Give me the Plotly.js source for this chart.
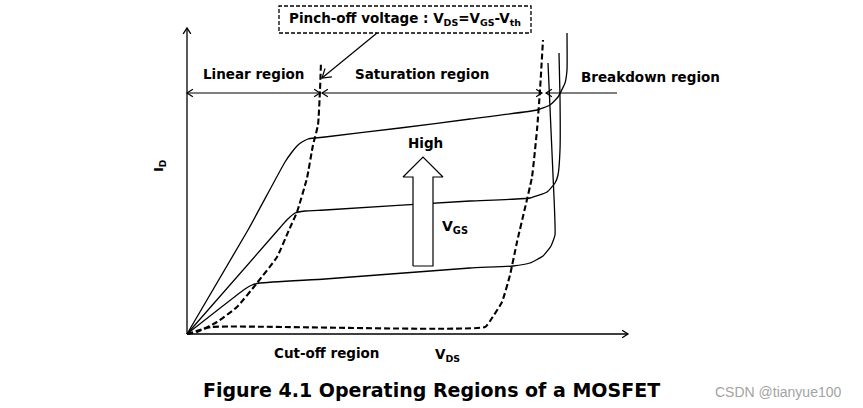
<!DOCTYPE html>
<html>
<head>
<meta charset="utf-8">
<script src="https://cdn.plot.ly/plotly-3.0.1.min.js"></script>
<style>html,body{margin:0;padding:0;background:#fff;}#chart{width:863px;height:408px;}</style>
</head>
<body>
<div id="chart"></div>
<script>
// Schematic I_D vs V_DS curves (arbitrary units, origin at the axis corner)
var highVds = [0, 61, 98, 105, 110, 115, 121, 128, 138, 213, 283, 350, 363, 371, 378, 380, 380];
var highId  = [0, 104, 172, 182, 188, 192, 195, 196, 197, 206, 215, 224, 229, 237, 251, 264, 301];

var midVds = [0, 91, 98, 103, 108, 118, 138, 283, 343, 360, 368, 371, 373, 373, 372];
var midId  = [0, 104, 112, 117, 121, 123, 124, 133, 136, 142, 151, 159, 184, 237, 281];

var lowVds = [0, 58, 65, 73, 138, 283, 326, 343, 356, 364, 368, 366, 361];
var lowId  = [0, 45, 49, 51, 55, 66, 68, 71, 78, 88, 99, 159, 271];

// Pinch-off boundary (V_DS = V_GS - V_th)
var pinchVds = [0, 10, 30, 50, 70, 90, 102, 110, 120, 126, 131, 133, 134];
var pinchId  = [0, 2, 12, 27, 51, 77, 104, 122, 156, 189, 209, 244, 272];

// Cut-off / breakdown boundary
var cutVds = [0, 25, 298, 305, 315, 323, 330, 338, 345, 350, 353, 356];
var cutId  = [0, 7, 7, 16, 32, 59, 92, 126, 157, 204, 244, 294];

// Block arrow "High V_GS"
var blockVds = [226, 246, 246, 256, 236, 216, 226, 226];
var blockId  = [68, 68, 157, 157, 177, 157, 157, 68];

// Axes ends and region bar
var axisEnd = {vds: 441, id: 306};
var regionBarId = 241;
var linearSpan = [0, 133];
var satSpan = [135, 355];
var breakSpan = [430, 359];
var pointerFrom = [190, 301], pointerTo = [135, 256];

var solid = {color: '#000', width: 1.3};
var dashed = {color: '#000', width: 2.1, dash: '6px,3px'};

function curve(x, y, line) {
  return {x: x, y: y, mode: 'lines', hoverinfo: 'skip', line: line};
}

// straight line with open V arrowheads at the chosen ends
function arrowTrace(x0, y0, x1, y1, atStart, atEnd, len, width) {
  len = len || 7;
  var xs = [x0, x1, null], ys = [y0, y1, null];
  var ang = 33 * Math.PI / 180;
  function head(tx, ty, fx, fy) {
    var dx = tx - fx, dy = ty - fy, d = Math.sqrt(dx * dx + dy * dy);
    var ux = dx / d, uy = dy / d;
    var c = Math.cos(ang), s = Math.sin(ang);
    var ax = -(ux * c - uy * s) * len, ay = -(ux * s + uy * c) * len;
    var bx = -(ux * c + uy * s) * len, by = -(-ux * s + uy * c) * len;
    xs.push(tx + ax, tx, tx + bx, null);
    ys.push(ty + ay, ty, ty + by, null);
  }
  if (atEnd) head(x1, y1, x0, y0);
  if (atStart) head(x0, y0, x1, y1);
  return {x: xs, y: ys, mode: 'lines', hoverinfo: 'skip', line: {color: '#000', width: width || 1.2}};
}

var traces = [
  curve(highVds, highId, Object.assign({shape: 'spline', smoothing: 0.4}, solid)),
  curve(midVds, midId, Object.assign({shape: 'spline', smoothing: 0.4}, solid)),
  curve(lowVds, lowId, Object.assign({shape: 'spline', smoothing: 0.4}, solid)),
  curve(pinchVds, pinchId, Object.assign({shape: 'spline', smoothing: 0.4}, dashed)),
  curve(cutVds, cutId, Object.assign({shape: 'spline', smoothing: 0.4}, dashed)),
  {x: blockVds, y: blockId, mode: 'lines', fill: 'toself', fillcolor: '#fff', hoverinfo: 'skip', line: {color: '#000', width: 1.2}},
  arrowTrace(0, 0, 0, axisEnd.id, false, true, 7, 1.3),
  arrowTrace(0, 0, axisEnd.vds, 0, false, true, 7, 1.3),
  arrowTrace(linearSpan[0], regionBarId, linearSpan[1], regionBarId, true, true, 7),
  arrowTrace(satSpan[0], regionBarId, satSpan[1], regionBarId, true, true, 7),
  arrowTrace(breakSpan[0], regionBarId, breakSpan[1], regionBarId, false, true, 7),
  arrowTrace(pointerFrom[0], pointerFrom[1], pointerTo[0], pointerTo[1], false, true, 10, 1.2)
];

var F = 'DejaVu Sans, Verdana, sans-serif';
function txt(t, x, y, size, extra) {
  return Object.assign({text: t, x: x, y: y, xref: 'x', yref: 'y', showarrow: false,
    font: {family: F, size: size, color: '#000'}}, extra || {});
}

var annotations = [
  txt('<b>Linear region</b>', 66, 260, 13.5),
  txt('<b>Saturation region</b>', 235, 260, 13.5),
  txt('<b>Breakdown region</b>', 463, 257, 13.5),
  txt('<b>Pinch-off voltage : V<sub>DS</sub>=V<sub>GS</sub>-V<sub>th</sub></b>', 218, 315, 13.5),
  txt('<b>High</b>', 238, 191, 13.5),
  txt('<b>V<sub>GS</sub></b>', 268, 107, 14),
  txt('<b>I<sub>D</sub></b>', -28, 168, 13, {textangle: -90}),
  txt('<b>Cut-off region</b>', 139, -19, 13.5),
  txt('<b>V<sub>DS</sub></b>', 260, -21, 13.5),
  txt('<b>Figure 4.1 Operating Regions of a MOSFET</b>', 244, -56, 19),
  txt('CSDN @tianyue100', 591, -58, 14, {font: {family: 'Liberation Sans, Arial, sans-serif', size: 14, color: '#a3a3a3'}})
];

var shapes = [
  {type: 'rect', xref: 'x', yref: 'y', x0: 92, x1: 344, y0: 301, y1: 328,
   line: {color: '#000', width: 1.3, dash: '4px,2px'}, fillcolor: 'rgba(0,0,0,0)'}
];

var layout = {
  width: 863, height: 408,
  margin: {l: 0, r: 0, t: 0, b: 0},
  paper_bgcolor: '#fff', plot_bgcolor: '#fff',
  showlegend: false,
  xaxis: {range: [-187, 676], visible: false, fixedrange: true},
  yaxis: {range: [-74, 334], visible: false, fixedrange: true},
  annotations: annotations,
  shapes: shapes
};

Plotly.newPlot('chart', traces, layout, {staticPlot: true, displayModeBar: false});
</script>
</body>
</html>
